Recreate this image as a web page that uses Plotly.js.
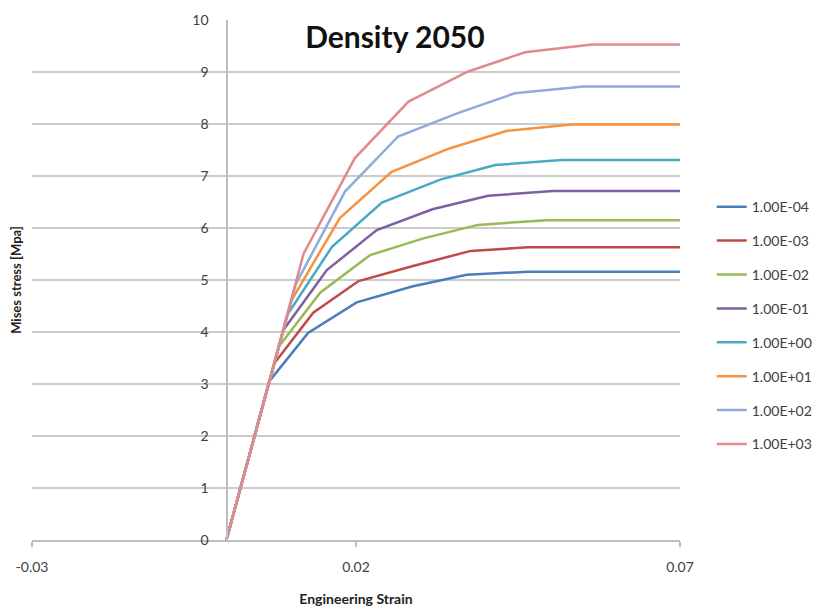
<!DOCTYPE html>
<html>
<head>
<meta charset="utf-8">
<script src="https://cdn.plot.ly/plotly-3.0.1.min.js"></script>
<style>
  html, body { margin: 0; padding: 0; background: #ffffff; }
  #chart { width: 832px; height: 610px; }
</style>
</head>
<body>
<div id="chart"></div>
<script>
// Strain-rate series: engineering strain vs. Mises stress [MPa]
const rateLabels = ['1.00E-04', '1.00E-03', '1.00E-02', '1.00E-01',
                    '1.00E+00', '1.00E+01', '1.00E+02', '1.00E+03'];

const strain_1em4 = [0, 0.0066, 0.0126, 0.0201, 0.0288, 0.0371, 0.0466, 0.07];
const stress_1em4 = [0, 3.05, 3.98, 4.57, 4.88, 5.10, 5.16, 5.16];

const strain_1em3 = [0, 0.0074, 0.0134, 0.0204, 0.0288, 0.0377, 0.0466, 0.07];
const stress_1em3 = [0, 3.40, 4.37, 4.98, 5.27, 5.56, 5.63, 5.63];

const strain_1em2 = [0, 0.0081, 0.0145, 0.0222, 0.0304, 0.0388, 0.0494, 0.07];
const stress_1em2 = [0, 3.72, 4.76, 5.48, 5.80, 6.06, 6.15, 6.15];

const strain_1em1 = [0, 0.0088, 0.0155, 0.0232, 0.0318, 0.0404, 0.0504, 0.07];
const stress_1em1 = [0, 4.04, 5.19, 5.96, 6.36, 6.62, 6.71, 6.71];

const strain_1e0 = [0, 0.0094, 0.0163, 0.0240, 0.0330, 0.0415, 0.0517, 0.07];
const stress_1e0 = [0, 4.33, 5.64, 6.49, 6.93, 7.21, 7.31, 7.31];

const strain_1e1 = [0, 0.0101, 0.0175, 0.0255, 0.0344, 0.0433, 0.0533, 0.07];
const stress_1e1 = [0, 4.62, 6.19, 7.08, 7.53, 7.87, 7.99, 7.99];

const strain_1e2 = [0, 0.0107, 0.0183, 0.0265, 0.0355, 0.0445, 0.0551, 0.07];
const stress_1e2 = [0, 4.92, 6.70, 7.76, 8.20, 8.59, 8.72, 8.72];

const strain_1e3 = [0, 0.0119, 0.0198, 0.0281, 0.0373, 0.0461, 0.0564, 0.07];
const stress_1e3 = [0, 5.50, 7.34, 8.43, 9.01, 9.38, 9.53, 9.53];

const strainSets = [strain_1em4, strain_1em3, strain_1em2, strain_1em1,
                    strain_1e0, strain_1e1, strain_1e2, strain_1e3];
const stressSets = [stress_1em4, stress_1em3, stress_1em2, stress_1em1,
                    stress_1e0, stress_1e1, stress_1e2, stress_1e3];

const xTickVals = [-0.03, 0.02, 0.07];
const xTickText = ['-0.03', '0.02', '0.07'];
const yTickVals = [0, 1, 2, 3, 4, 5, 6, 7, 8, 9, 10];

const lineColors = ['#4A7EBB', '#BE4B48', '#98B954', '#7D60A0',
                    '#46AAC5', '#F69240', '#8FAADC', '#E0898E'];

const FONT = 'Lato, "Open Sans", "DejaVu Sans", sans-serif';

const traces = rateLabels.map((name, i) => ({
  type: 'scatter',
  mode: 'lines',
  name: name,
  legendgroup: 'g' + i,
  x: strainSets[i],
  y: stressSets[i],
  line: { color: lineColors[i], width: 2.5 }
}));

const layout = {
  width: 832,
  height: 610,
  paper_bgcolor: '#ffffff',
  plot_bgcolor: '#ffffff',
  margin: { l: 32, r: 152, t: 20, b: 70 },
  font: { family: FONT, size: 14, color: '#404040' },
  title: {
    text: '<b>Density 2050</b>',
    font: { family: FONT, size: 30, color: '#111111' },
    x: 0.56, xref: 'paper', xanchor: 'center',
    y: 0.938, yref: 'container', yanchor: 'middle'
  },
  xaxis: {
    range: [-0.03, 0.07],
    domain: [0, 1],
    tickmode: 'array',
    tickvals: xTickVals,
    ticktext: xTickText,
    ticks: 'outside', ticklen: 5, tickcolor: '#bdbdbd', tickwidth: 1.5,
    ticklabelstandoff: 9,
    showgrid: false, zeroline: false,
    showline: true, linecolor: '#bdbdbd', linewidth: 1.5,
    tickfont: { family: FONT, size: 14, color: '#404040' },
    title: {
      text: '<b>Engineering Strain</b>',
      font: { family: FONT, size: 14, color: '#222222' },
      standoff: 20
    },
    automargin: false
  },
  yaxis: {
    range: [0, 10],
    anchor: 'free',
    position: 0.3,
    tickmode: 'array',
    tickvals: yTickVals,
    ticks: '',
    ticklabelstandoff: 15,
    showgrid: true, gridcolor: '#cbcbcb', gridwidth: 1.5,
    zeroline: false,
    showline: true, linecolor: '#bdbdbd', linewidth: 1.5,
    tickfont: { family: FONT, size: 14, color: '#404040' },
    title: {
      text: '<b>Mises stress [Mpa]</b>',
      font: { family: FONT, size: 13, color: '#222222' },
      standoff: 166
    },
    automargin: false
  },
  legend: {
    x: 1.049, xanchor: 'left',
    y: 0.671, yanchor: 'top',
    bgcolor: 'rgba(0,0,0,0)',
    font: { family: FONT, size: 14, color: '#404040' },
    tracegroupgap: 12.7,
    itemwidth: 30
  },
  showlegend: true
};

Plotly.newPlot('chart', traces, layout, { displayModeBar: false, staticPlot: true });
</script>
</body>
</html>
